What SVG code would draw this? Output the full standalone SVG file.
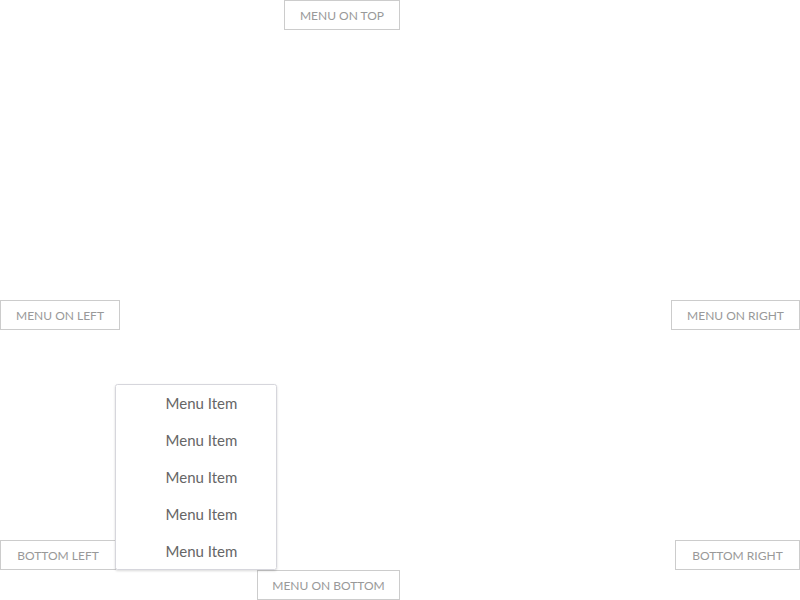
<svg xmlns="http://www.w3.org/2000/svg" width="800" height="600" viewBox="0 0 800 600">
<defs>
<filter id="sh" x="-10%" y="-10%" width="120%" height="120%">
<feDropShadow dx="0" dy="1" stdDeviation="1" flood-color="#000" flood-opacity="0.15"/>
</filter>
</defs>
<style>
.btn rect{fill:#fff;stroke:#cccccc;stroke-width:1}
.btn text{font-family:"Lato","Liberation Sans",sans-serif;font-size:12px;fill:#999999;text-anchor:middle}
.menu rect{fill:#fff;stroke:#d6d6dc;stroke-width:1}
.menu text{font-family:"Lato","Liberation Sans",sans-serif;font-size:15px;fill:#666666;text-anchor:middle}
</style>
<rect width="800" height="600" fill="#fff"/>
<g id="menu-on-top" class="btn"><rect x="284.5" y="0.5" width="115" height="29"/><text x="342" y="19.5">MENU ON TOP</text></g>
<g id="menu-on-left" class="btn"><rect x="0.5" y="300.5" width="119" height="29"/><text x="60" y="319.5">MENU ON LEFT</text></g>
<g id="menu-on-right" class="btn"><rect x="671.5" y="300.5" width="128" height="29"/><text x="735.5" y="319.5">MENU ON RIGHT</text></g>
<g id="bottom-left" class="btn"><rect x="0.5" y="540.5" width="115" height="29"/><text x="58" y="559.5">BOTTOM LEFT</text></g>
<g id="bottom-right" class="btn"><rect x="675.5" y="540.5" width="124" height="29"/><text x="737.5" y="559.5">BOTTOM RIGHT</text></g>
<g id="menu-on-bottom" class="btn"><rect x="257.5" y="570.5" width="142" height="29"/><text x="328.5" y="589.5">MENU ON BOTTOM</text></g>
<g id="menu" class="menu">
<rect x="115.5" y="384.5" width="161" height="185" rx="2" filter="url(#sh)"/>
<text x="201.5" y="409">Menu Item</text>
<text x="201.5" y="446">Menu Item</text>
<text x="201.5" y="483">Menu Item</text>
<text x="201.5" y="520">Menu Item</text>
<text x="201.5" y="557">Menu Item</text>
</g>
<g id="connectors"/>
</svg>
